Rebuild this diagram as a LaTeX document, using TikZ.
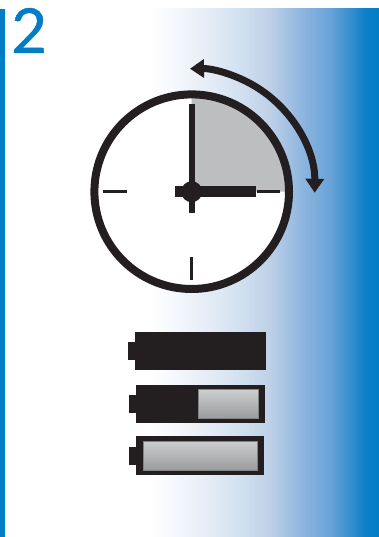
\documentclass[tikz,border=0pt]{standalone}
\usepackage{fontspec}
\setmainfont{Lato}
\newfontfamily\numfont{Lato}[FakeBold=0.8]
\usepackage{xcolor}
\definecolor{pbBlue}{RGB}{0,125,197}
\definecolor{pbInk}{RGB}{35,31,32}
\definecolor{pbSector}{RGB}{188,190,192}
\definecolor{pbEdge}{RGB}{128,130,133}
\definecolor{pbFadeA}{RGB}{245,248,252}
\definecolor{pbFadeB}{RGB}{233,239,248}
\definecolor{pbFadeC}{RGB}{210,225,240}
\definecolor{pbFadeD}{RGB}{190,208,232}
\definecolor{pbFadeE}{RGB}{145,183,224}
\definecolor{pbFadeF}{RGB}{105,163,216}
\definecolor{pbFadeG}{RGB}{55,143,207}
\definecolor{pbFadeH}{RGB}{12,128,199}
\usetikzlibrary{arrows.meta}
\pgfdeclarehorizontalshading{pbFade}{100bp}{
  color(0bp)=(white); color(27.3bp)=(white);
  color(32.5bp)=(pbFadeA); color(37.7bp)=(pbFadeB);
  color(46bp)=(pbFadeC);
  color(52.3bp)=(pbFadeD);
  color(58.5bp)=(pbFadeE);
  color(64.8bp)=(pbFadeF);
  color(69bp)=(pbFadeG);
  color(72bp)=(pbFadeH);
  color(75bp)=(pbBlue); color(100bp)=(pbBlue)}

\begin{document}
\begin{tikzpicture}[
  x=1pt,y=-1pt,
  numeral/.style={font=\numfont\fontsize{62}{62}\selectfont,text=pbBlue,inner sep=0pt},
  rim/.style={pbInk,line width=8pt},
  tickmark/.style={pbInk,line width=3pt},
  minutehand/.style={pbInk,line width=6.4pt},
  hourhand/.style={pbInk,line width=10.5pt},
  turnarrow/.style={{Triangle[length=14pt,width=18pt]}-{Triangle[length=14pt,width=18pt]},pbInk,line width=7pt},
  cell/.style={fill=pbInk},
  cellwindow/.style={draw=pbEdge,line width=0.8pt,top color=pbSector!75!white,bottom color=pbEdge!80!white}]

  \useasboundingbox (0,0) rectangle (379,537);

  % backdrop
  \shade[shading=pbFade] (139,9) rectangle (379,537);
  \fill[pbBlue] (0,9) rectangle (5,537);
  \node[numeral,anchor=base west] (num) at (11,53) {2};

  % clock
  \coordinate (clk) at (191.7,191.7);
  \fill[white] (clk) circle[radius=98pt];
  \fill[pbSector] (clk) -- ++(90:96pt) arc[start angle=90,end angle=0,radius=96pt] -- cycle;
  \draw[rim] (clk) circle[radius=97.3pt];
  \draw[tickmark] (103,191.7) -- (127,191.7);
  \draw[tickmark] (257,191.7) -- (280,191.7);
  \draw[tickmark] (191.7,257) -- (191.7,280);
  \draw[minutehand] (191.7,104) -- (191.7,213);
  \draw[hourhand] (175,191.7) -- (255.7,191.7);
  \fill[pbInk] (clk) circle[radius=10.5pt];
  \draw[turnarrow] (clk) ++(-0.5:123pt) arc[start angle=-0.5,end angle=90.8,radius=123pt];

  % batteries
  \foreach \i/\xa/\xb/\ya/\yb/\nx/\nya/\nyb in {
    1/135/265.7/331.7/370/128.3/342/359.7,
    2/136/265/385/422.7/129/395.3/412.7,
    3/136/264.3/436.3/475/129.3/446.7/464.7}{
    \fill[cell] (\xa,\ya) rectangle (\xb,\yb);
    \fill[cell] (\nx,\nya) rectangle (\xa,\nyb);
  }
  \shade[cellwindow] (198.3,389.3) rectangle (258,418.7);
  \shade[cellwindow] (143.3,441) rectangle (257.3,470);
\end{tikzpicture}
\end{document}
